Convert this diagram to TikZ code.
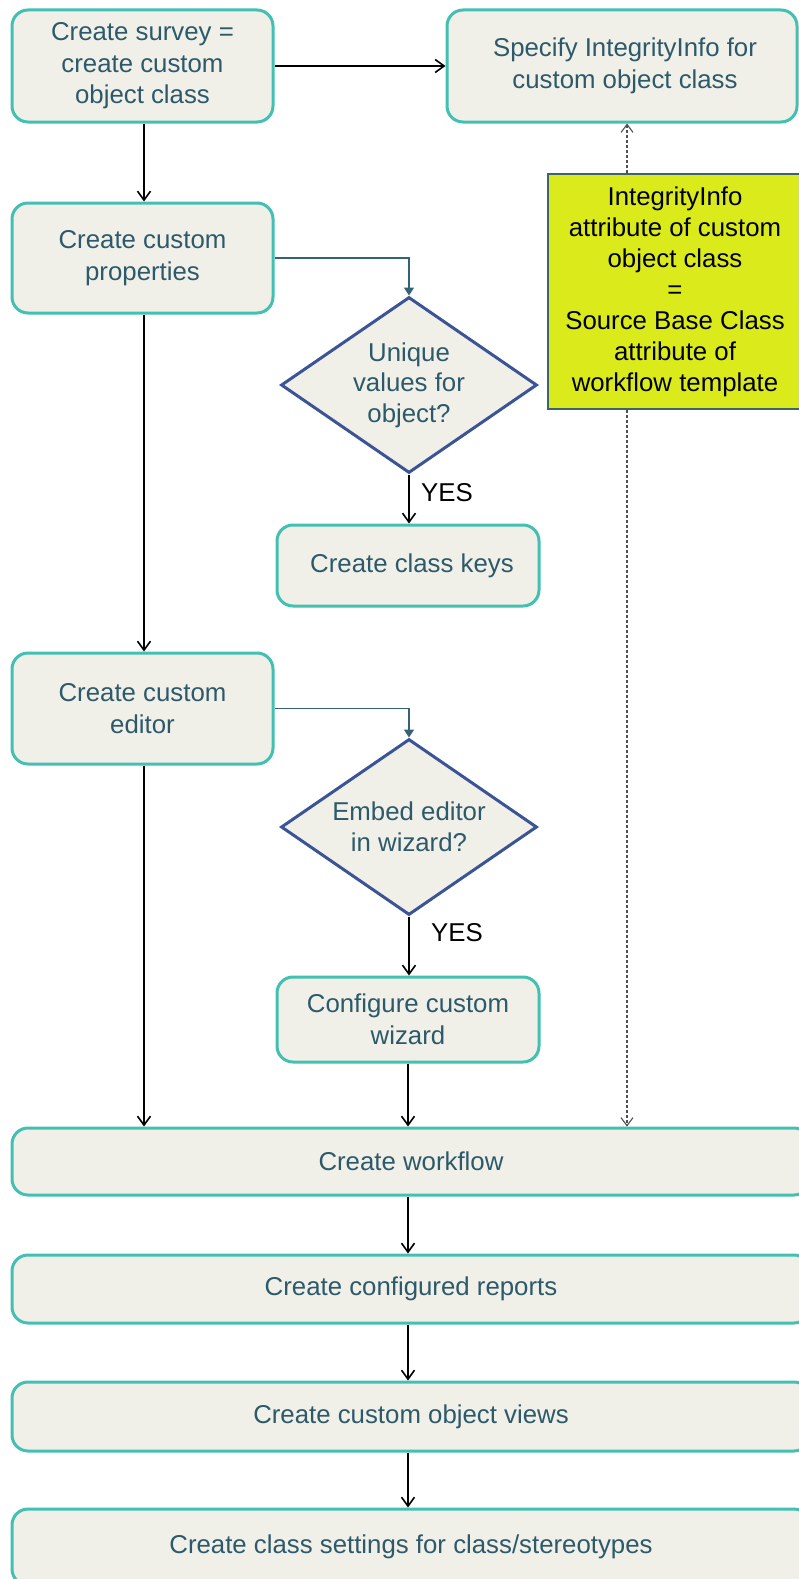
\documentclass[tikz,border=0pt]{standalone}
\usepackage{fontspec}
\setmainfont{Liberation Sans}
\usetikzlibrary{arrows.meta,shapes.geometric}
\definecolor{boxfill}{RGB}{240,239,232}
\definecolor{boxedge}{RGB}{66,192,178}
\definecolor{txtc}{RGB}{45,90,106}
\definecolor{diaedge}{RGB}{58,84,150}
\definecolor{notefill}{RGB}{218,234,26}
\definecolor{noteedge}{RGB}{60,100,105}
\definecolor{tealline}{RGB}{50,100,115}
\definecolor{dashc}{RGB}{80,80,80}
\begin{document}
\begin{tikzpicture}[x=1pt,y=-1pt,
  font=\fontsize{25.8}{31.5}\selectfont,
  stepbox/.style={draw=boxedge, fill=boxfill, line width=3pt, rounded corners=16pt,
    inner sep=0pt, align=center, text=txtc},
  dia/.style={draw=diaedge, fill=boxfill, line width=3pt, shape=diamond, inner sep=0pt,
    minimum width=256pt, minimum height=176pt},
  dtxt/.style={align=center, text=txtc, font=\fontsize{25.8}{30.5}\selectfont},
  note/.style={draw=noteedge, fill=notefill, line width=1.5pt, inner sep=0pt,
    align=center, text=black, font=\fontsize{25.8}{31}\selectfont},
  arr/.style={draw=black, line width=1.8pt, -{Straight Barb[length=9pt,width=13pt,line width=1.6pt]}},
  tarr/.style={draw=tealline, line width=1.6pt, -{Triangle[length=8pt,width=10pt]}},
  darr/.style={draw=dashc, line width=1.1pt, dash pattern=on 3pt off 2pt,
    -{Straight Barb[length=8pt,width=12pt,line width=1.1pt]}},
  yes/.style={text=black, inner sep=0pt}
]
\useasboundingbox (0,0) rectangle (798,1579);

\node[stepbox, minimum width=261pt, minimum height=112pt] (b1) at (142.5,66)
  {Create survey =\\create custom\\object class};
\node[stepbox, minimum width=350pt, minimum height=112pt] (spec) at (622,66)
  {\hspace*{6pt}Specify IntegrityInfo for\\\hspace*{6pt}custom object class};
\node[stepbox, minimum width=261pt, minimum height=110pt] (b2) at (142.5,258)
  {Create custom\\properties};
\node[dia, label={[dtxt]center:{Unique\\values for\\object?}}] (d1) at (409,385) {};
\node[stepbox, minimum width=262pt, minimum height=81pt] (keys) at (408,565.5)
  {\hspace*{8pt}Create class keys};
\node[stepbox, minimum width=261pt, minimum height=111pt] (b3) at (142.5,708.5)
  {Create custom\\editor};
\node[dia, label={[dtxt]center:{Embed editor\\in wizard?}}] (d2) at (409,827) {};
\node[stepbox, minimum width=262pt, minimum height=85pt] (conf) at (408,1019.5)
  {Configure custom\\wizard};
\node[note, minimum width=254pt, minimum height=235pt] (note) at (675,291.5)
  {IntegrityInfo\\attribute of custom\\object class\\=\\Source Base Class\\attribute of\\workflow template};
\node[stepbox, minimum width=798pt, minimum height=67pt] (wf) at (411,1161.5)
  {Create workflow};
\node[stepbox, minimum width=798pt, minimum height=68pt] (rep) at (411,1289)
  {Create configured reports};
\node[stepbox, minimum width=798pt, minimum height=69pt] (views) at (411,1416.5)
  {Create custom object views};
\node[stepbox, minimum width=798pt, minimum height=76pt] (sett) at (411,1547)
  {Create class settings for class/stereotypes};

\coordinate (lc) at (144,0);
\coordinate (mid) at (408,0);
\coordinate (dx) at (627,0);

\draw[arr] (b1.east) -- (spec.west);
\draw[arr] (b1.south -| lc) -- (b2.north -| lc);
\draw[arr] (b2.south -| lc) -- (b3.north -| lc);
\draw[arr] (b3.south -| lc) -- (wf.north -| lc);
\draw[tarr] (b2.east) -| (d1.north);
\draw[tarr] (b3.east) -| (d2.north);
\draw[arr] (d1.south) -- (d1.south |- keys.north);
\draw[arr] (d2.south) -- (d2.south |- conf.north);
\node[yes, anchor=west] (y1) at (421,493) {YES};
\node[yes, anchor=west] (y2) at (431,933) {YES};
\draw[arr] (conf.south -| mid) -- (wf.north -| mid);
\draw[arr] (wf.south -| mid) -- (rep.north -| mid);
\draw[arr] (rep.south -| mid) -- (views.north -| mid);
\draw[arr] (views.south -| mid) -- (sett.north -| mid);
\draw[darr] (note.north -| dx) -- (spec.south -| dx);
\draw[darr] (note.south -| dx) -- (wf.north -| dx);
\end{tikzpicture}
\end{document}
